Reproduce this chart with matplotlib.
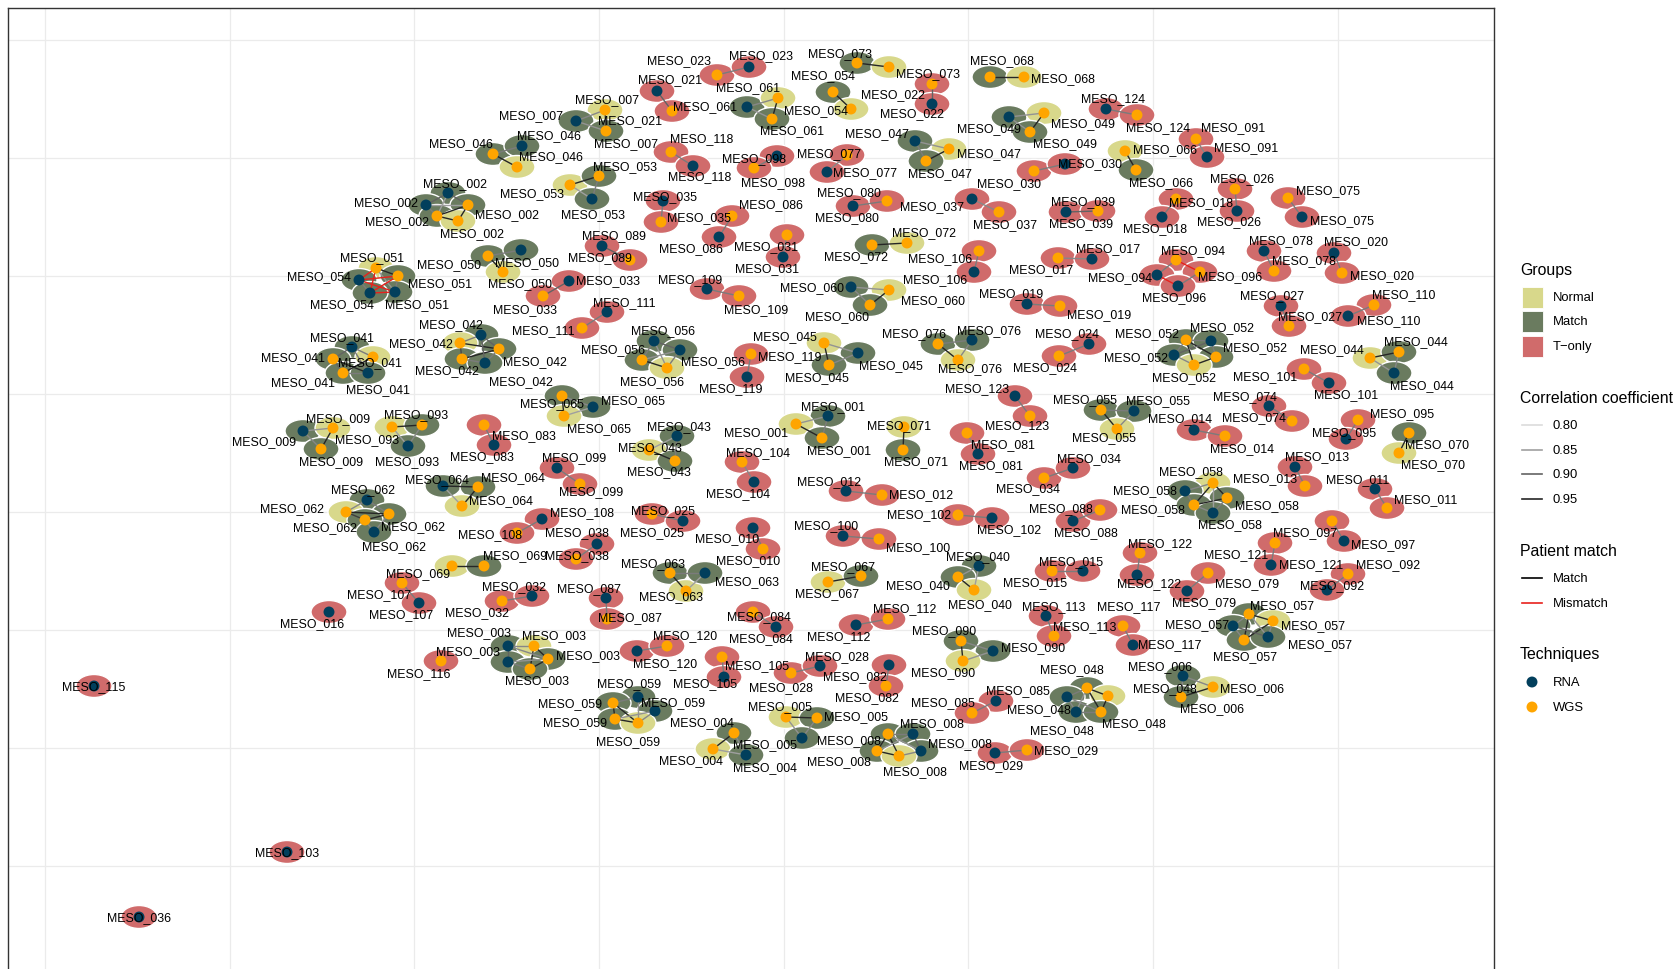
import matplotlib
matplotlib.use("Agg")
import matplotlib.pyplot as plt
from matplotlib.patches import Ellipse, Rectangle
from matplotlib.colors import LinearSegmentedColormap, Normalize
import numpy as np

plt.rcParams['font.family'] = ['Liberation Sans', 'DejaVu Sans']

# sample, node id, technique, group, layout x, layout y, label x, label y
nodes = [
    ("MESO_021", "021a", "RNA", "T-only", 657, 92, 670, 80),
    ("MESO_021", "021b", "WGS", "T-only", 672, 112, 630, 121),
    ("MESO_007", "007a", "WGS", "Normal", 605, 111, 607, 100),
    ("MESO_007", "007b", "RNA", "Match", 576, 122, 531, 116),
    ("MESO_007", "007c", "WGS", "Match", 606, 132, 626, 144),
    ("MESO_046", "046a", "WGS", "Match", 493, 155, 461, 144),
    ("MESO_046", "046b", "RNA", "Match", 522, 147, 549, 136),
    ("MESO_046", "046c", "WGS", "Normal", 517, 168, 551, 157),
    ("MESO_053", "053a", "WGS", "Normal", 570, 186, 532, 194),
    ("MESO_053", "053b", "WGS", "Match", 599, 177, 625, 167),
    ("MESO_053", "053c", "RNA", "Match", 592, 200, 593, 215),
    ("MESO_002", "002a", "RNA", "Match", 448, 194, 455, 184),
    ("MESO_002", "002b", "RNA", "Match", 426, 206, 386, 203),
    ("MESO_002", "002c", "WGS", "Match", 468, 206, 507, 215),
    ("MESO_002", "002d", "WGS", "Match", 437, 217, 397, 222),
    ("MESO_002", "002e", "WGS", "Normal", 458, 222, 472, 234),
    ("MESO_035", "035a", "RNA", "T-only", 663, 202, 665, 197),
    ("MESO_035", "035b", "WGS", "T-only", 661, 223, 699, 218),
    ("MESO_089", "089a", "RNA", "T-only", 602, 247, 614, 236),
    ("MESO_089", "089b", "WGS", "T-only", 630, 261, 600, 258),
    ("MESO_050", "050a", "WGS", "Match", 488, 257, 449, 265),
    ("MESO_050", "050b", "RNA", "Match", 521, 251, 527, 263),
    ("MESO_050", "050c", "WGS", "Normal", 503, 273, 520, 284),
    ("MESO_033", "033a", "RNA", "T-only", 569, 282, 608, 281),
    ("MESO_033", "033b", "WGS", "T-only", 543, 297, 525, 310),
    ("MESO_051", "051a", "WGS", "Normal", 376, 269, 372, 258),
    ("MESO_051", "051b", "WGS", "Match", 398, 277, 440, 284),
    ("MESO_051", "051c", "RNA", "Match", 395, 293, 417, 305),
    ("MESO_054", "054a", "RNA", "Match", 359, 281, 319, 277),
    ("MESO_054", "054b", "RNA", "Match", 370, 294, 342, 305),
    ("MESO_023", "023a", "WGS", "T-only", 717, 76, 679, 61),
    ("MESO_023", "023b", "RNA", "T-only", 749, 68, 761, 56),
    ("MESO_061", "061a", "RNA", "Match", 747, 108, 705, 107),
    ("MESO_061", "061b", "WGS", "Normal", 778, 99, 748, 88),
    ("MESO_061", "061c", "WGS", "Match", 772, 120, 792, 131),
    ("MESO_073", "073a", "WGS", "Match", 857, 64, 840, 54),
    ("MESO_073", "073b", "WGS", "Normal", 889, 68, 928, 74),
    ("MESO_054", "054c", "WGS", "Match", 833, 93, 823, 76),
    ("MESO_054", "054d", "WGS", "Normal", 851, 110, 816, 111),
    ("MESO_022", "022a", "WGS", "T-only", 932, 85, 893, 95),
    ("MESO_022", "022b", "RNA", "T-only", 932, 105, 912, 114),
    ("MESO_068", "068a", "WGS", "Match", 990, 78, 1002, 61),
    ("MESO_068", "068b", "WGS", "Normal", 1024, 78, 1063, 79),
    ("MESO_049", "049a", "RNA", "Match", 1009, 118, 989, 129),
    ("MESO_049", "049b", "WGS", "Normal", 1044, 114, 1083, 124),
    ("MESO_049", "049c", "WGS", "Match", 1030, 133, 1065, 144),
    ("MESO_124", "124a", "RNA", "T-only", 1106, 110, 1113, 99),
    ("MESO_124", "124b", "WGS", "T-only", 1137, 116, 1158, 128),
    ("MESO_047", "047a", "RNA", "Match", 915, 142, 877, 134),
    ("MESO_047", "047b", "WGS", "Normal", 949, 150, 989, 154),
    ("MESO_047", "047c", "WGS", "Match", 926, 162, 940, 174),
    ("MESO_098", "098a", "RNA", "T-only", 777, 157, 754, 159),
    ("MESO_098", "098b", "WGS", "T-only", 754, 169, 773, 183),
    ("MESO_077", "077a", "WGS", "T-only", 847, 156, 829, 154),
    ("MESO_077", "077b", "RNA", "T-only", 827, 173, 865, 173),
    ("MESO_118", "118a", "WGS", "T-only", 671, 153, 702, 139),
    ("MESO_118", "118b", "RNA", "T-only", 693, 167, 700, 177),
    ("MESO_030", "030a", "WGS", "T-only", 1034, 172, 1009, 184),
    ("MESO_030", "030b", "RNA", "T-only", 1065, 165, 1090, 164),
    ("MESO_066", "066a", "WGS", "Normal", 1125, 152, 1165, 150),
    ("MESO_066", "066b", "WGS", "Match", 1136, 171, 1161, 183),
    ("MESO_080", "080a", "RNA", "T-only", 853, 207, 849, 193),
    ("MESO_080", "080b", "WGS", "T-only", 887, 202, 847, 218),
    ("MESO_037", "037a", "RNA", "T-only", 972, 200, 932, 207),
    ("MESO_037", "037b", "WGS", "T-only", 999, 213, 1005, 225),
    ("MESO_039", "039a", "RNA", "T-only", 1066, 213, 1083, 202),
    ("MESO_039", "039b", "WGS", "T-only", 1098, 212, 1081, 224),
    ("MESO_086", "086a", "WGS", "T-only", 732, 217, 771, 205),
    ("MESO_086", "086b", "RNA", "T-only", 719, 238, 691, 249),
    ("MESO_031", "031a", "WGS", "T-only", 787, 236, 766, 247),
    ("MESO_031", "031b", "RNA", "T-only", 783, 258, 767, 269),
    ("MESO_072", "072a", "WGS", "Match", 872, 246, 856, 257),
    ("MESO_072", "072b", "WGS", "Normal", 907, 244, 924, 233),
    ("MESO_106", "106a", "WGS", "T-only", 979, 252, 940, 259),
    ("MESO_106", "106b", "RNA", "T-only", 974, 273, 935, 280),
    ("MESO_017", "017a", "WGS", "T-only", 1058, 259, 1041, 270),
    ("MESO_017", "017b", "RNA", "T-only", 1092, 260, 1108, 249),
    ("MESO_109", "109a", "RNA", "T-only", 707, 290, 690, 280),
    ("MESO_109", "109b", "WGS", "T-only", 739, 297, 756, 310),
    ("MESO_060", "060a", "RNA", "Match", 851, 288, 812, 288),
    ("MESO_060", "060b", "WGS", "Normal", 889, 291, 933, 301),
    ("MESO_060", "060c", "WGS", "Match", 870, 306, 837, 317),
    ("MESO_019", "019a", "RNA", "T-only", 1027, 305, 1011, 294),
    ("MESO_019", "019b", "WGS", "T-only", 1060, 307, 1099, 315),
    ("MESO_091", "091a", "WGS", "T-only", 1196, 140, 1233, 128),
    ("MESO_091", "091b", "RNA", "T-only", 1207, 158, 1246, 148),
    ("MESO_026", "026a", "WGS", "T-only", 1235, 190, 1242, 179),
    ("MESO_026", "026b", "RNA", "T-only", 1237, 212, 1229, 222),
    ("MESO_018", "018a", "WGS", "T-only", 1176, 200, 1201, 203),
    ("MESO_018", "018b", "RNA", "T-only", 1162, 218, 1155, 229),
    ("MESO_075", "075a", "WGS", "T-only", 1288, 199, 1328, 191),
    ("MESO_075", "075b", "RNA", "T-only", 1302, 218, 1342, 221),
    ("MESO_078", "078a", "RNA", "T-only", 1264, 252, 1281, 241),
    ("MESO_078", "078b", "WGS", "T-only", 1274, 272, 1304, 261),
    ("MESO_020", "020a", "RNA", "T-only", 1334, 254, 1356, 242),
    ("MESO_020", "020b", "WGS", "T-only", 1342, 274, 1382, 276),
    ("MESO_094", "094a", "WGS", "T-only", 1176, 261, 1193, 251),
    ("MESO_094", "094b", "RNA", "T-only", 1157, 276, 1120, 278),
    ("MESO_096", "096a", "WGS", "T-only", 1200, 273, 1230, 277),
    ("MESO_096", "096b", "RNA", "T-only", 1178, 287, 1174, 298),
    ("MESO_027", "027a", "RNA", "T-only", 1281, 307, 1272, 296),
    ("MESO_027", "027b", "WGS", "T-only", 1289, 327, 1310, 317),
    ("MESO_110", "110a", "WGS", "T-only", 1374, 306, 1404, 295),
    ("MESO_110", "110b", "RNA", "T-only", 1348, 317, 1389, 321),
    ("MESO_041", "041a", "RNA", "Match", 352, 348, 342, 338),
    ("MESO_041", "041b", "WGS", "Normal", 373, 358, 370, 363),
    ("MESO_041", "041c", "WGS", "Match", 333, 360, 293, 358),
    ("MESO_041", "041d", "WGS", "Match", 343, 374, 303, 383),
    ("MESO_041", "041e", "RNA", "Match", 368, 374, 378, 390),
    ("MESO_042", "042a", "RNA", "Match", 481, 336, 451, 325),
    ("MESO_042", "042b", "WGS", "Normal", 460, 344, 421, 344),
    ("MESO_042", "042c", "WGS", "Match", 499, 350, 535, 362),
    ("MESO_042", "042d", "WGS", "Match", 462, 360, 447, 371),
    ("MESO_042", "042e", "RNA", "Match", 485, 364, 521, 382),
    ("MESO_111", "111a", "RNA", "T-only", 607, 313, 624, 303),
    ("MESO_111", "111b", "WGS", "T-only", 582, 329, 543, 331),
    ("MESO_056", "056a", "RNA", "Match", 654, 342, 663, 331),
    ("MESO_056", "056b", "RNA", "Match", 680, 351, 713, 362),
    ("MESO_056", "056c", "WGS", "Match", 642, 361, 613, 350),
    ("MESO_056", "056d", "WGS", "Normal", 667, 369, 652, 382),
    ("MESO_065", "065a", "WGS", "Match", 562, 397, 552, 404),
    ("MESO_065", "065b", "RNA", "Match", 593, 408, 633, 401),
    ("MESO_065", "065c", "WGS", "Normal", 564, 417, 599, 429),
    ("MESO_009", "009a", "RNA", "Match", 303, 432, 264, 442),
    ("MESO_009", "009b", "WGS", "Normal", 333, 429, 338, 419),
    ("MESO_009", "009c", "WGS", "Match", 321, 450, 331, 462),
    ("MESO_093", "093a", "WGS", "Normal", 392, 428, 367, 440),
    ("MESO_093", "093b", "WGS", "Match", 422, 426, 416, 415),
    ("MESO_093", "093c", "RNA", "Match", 408, 447, 407, 462),
    ("MESO_083", "083a", "WGS", "T-only", 484, 426, 524, 436),
    ("MESO_083", "083b", "RNA", "T-only", 494, 446, 482, 457),
    ("MESO_099", "099a", "RNA", "T-only", 557, 469, 574, 458),
    ("MESO_099", "099b", "WGS", "T-only", 580, 485, 591, 492),
    ("MESO_043", "043a", "RNA", "Match", 677, 437, 679, 427),
    ("MESO_043", "043b", "WGS", "Normal", 649, 451, 650, 448),
    ("MESO_043", "043c", "WGS", "Match", 675, 462, 659, 472),
    ("MESO_064", "064a", "RNA", "Match", 443, 487, 437, 480),
    ("MESO_064", "064b", "WGS", "Match", 478, 488, 513, 478),
    ("MESO_064", "064c", "WGS", "Normal", 462, 507, 501, 501),
    ("MESO_062", "062a", "RNA", "Match", 367, 501, 363, 490),
    ("MESO_062", "062b", "WGS", "Normal", 346, 513, 292, 509),
    ("MESO_062", "062c", "WGS", "Match", 389, 515, 413, 527),
    ("MESO_062", "062d", "WGS", "Match", 365, 521, 325, 528),
    ("MESO_062", "062e", "RNA", "Match", 374, 533, 394, 547),
    ("MESO_108", "108a", "RNA", "T-only", 542, 520, 582, 513),
    ("MESO_108", "108b", "WGS", "T-only", 517, 534, 490, 535),
    ("MESO_025", "025a", "WGS", "T-only", 652, 515, 663, 511),
    ("MESO_025", "025b", "RNA", "T-only", 683, 522, 652, 533),
    ("MESO_038", "038a", "RNA", "T-only", 597, 545, 577, 533),
    ("MESO_038", "038b", "WGS", "T-only", 576, 560, 577, 556),
    ("MESO_119", "119a", "WGS", "T-only", 751, 355, 790, 357),
    ("MESO_119", "119b", "RNA", "T-only", 747, 378, 731, 389),
    ("MESO_045", "045a", "WGS", "Normal", 824, 344, 785, 337),
    ("MESO_045", "045b", "RNA", "Match", 858, 354, 891, 366),
    ("MESO_045", "045c", "WGS", "Match", 829, 366, 817, 378),
    ("MESO_076", "076a", "WGS", "Match", 938, 345, 914, 334),
    ("MESO_076", "076b", "RNA", "Match", 972, 341, 989, 331),
    ("MESO_076", "076c", "WGS", "Normal", 958, 361, 970, 369),
    ("MESO_024", "024a", "RNA", "T-only", 1089, 345, 1067, 334),
    ("MESO_024", "024b", "WGS", "T-only", 1059, 357, 1045, 368),
    ("MESO_123", "123a", "RNA", "T-only", 1015, 397, 977, 389),
    ("MESO_123", "123b", "WGS", "T-only", 1030, 417, 1017, 426),
    ("MESO_055", "055a", "WGS", "Match", 1101, 411, 1085, 400),
    ("MESO_055", "055b", "RNA", "Match", 1134, 412, 1158, 401),
    ("MESO_055", "055c", "WGS", "Normal", 1117, 430, 1104, 438),
    ("MESO_001", "001a", "RNA", "Match", 828, 417, 833, 407),
    ("MESO_001", "001b", "WGS", "Normal", 796, 425, 756, 433),
    ("MESO_001", "001c", "WGS", "Match", 822, 439, 839, 451),
    ("MESO_071", "071a", "WGS", "Normal", 904, 428, 899, 426),
    ("MESO_071", "071b", "WGS", "Match", 903, 451, 916, 462),
    ("MESO_081", "081a", "WGS", "T-only", 967, 434, 1003, 445),
    ("MESO_081", "081b", "RNA", "T-only", 978, 455, 991, 466),
    ("MESO_104", "104a", "WGS", "T-only", 742, 463, 758, 453),
    ("MESO_104", "104b", "RNA", "T-only", 754, 483, 738, 494),
    ("MESO_034", "034a", "WGS", "T-only", 1044, 479, 1028, 489),
    ("MESO_034", "034b", "RNA", "T-only", 1073, 469, 1089, 459),
    ("MESO_012", "012a", "RNA", "T-only", 846, 492, 829, 482),
    ("MESO_012", "012b", "WGS", "T-only", 882, 496, 921, 495),
    ("MESO_102", "102a", "WGS", "T-only", 958, 516, 919, 515),
    ("MESO_102", "102b", "RNA", "T-only", 992, 519, 1009, 530),
    ("MESO_088", "088a", "RNA", "T-only", 1073, 522, 1086, 533),
    ("MESO_088", "088b", "WGS", "T-only", 1100, 511, 1061, 509),
    ("MESO_100", "100a", "RNA", "T-only", 843, 537, 826, 526),
    ("MESO_100", "100b", "WGS", "T-only", 879, 540, 918, 548),
    ("MESO_010", "010a", "RNA", "T-only", 753, 529, 727, 539),
    ("MESO_010", "010b", "WGS", "T-only", 763, 550, 748, 561),
    ("MESO_052", "052a", "WGS", "Match", 1186, 341, 1147, 334),
    ("MESO_052", "052b", "RNA", "Match", 1211, 342, 1222, 328),
    ("MESO_052", "052c", "RNA", "Match", 1174, 356, 1136, 358),
    ("MESO_052", "052d", "WGS", "Match", 1216, 358, 1255, 348),
    ("MESO_052", "052e", "WGS", "Normal", 1194, 366, 1184, 378),
    ("MESO_044", "044a", "WGS", "Normal", 1370, 359, 1332, 350),
    ("MESO_044", "044b", "WGS", "Match", 1399, 353, 1416, 342),
    ("MESO_044", "044c", "RNA", "Match", 1394, 374, 1422, 386),
    ("MESO_101", "101a", "WGS", "T-only", 1304, 370, 1265, 377),
    ("MESO_101", "101b", "RNA", "T-only", 1329, 384, 1346, 395),
    ("MESO_074", "074a", "RNA", "T-only", 1269, 407, 1245, 397),
    ("MESO_074", "074b", "WGS", "T-only", 1292, 422, 1254, 418),
    ("MESO_014", "014a", "RNA", "T-only", 1194, 431, 1180, 419),
    ("MESO_014", "014b", "WGS", "T-only", 1225, 437, 1242, 449),
    ("MESO_095", "095a", "WGS", "T-only", 1358, 421, 1402, 414),
    ("MESO_095", "095b", "RNA", "T-only", 1346, 440, 1344, 433),
    ("MESO_070", "070a", "WGS", "Match", 1409, 434, 1437, 445),
    ("MESO_070", "070b", "WGS", "Normal", 1399, 454, 1433, 465),
    ("MESO_013", "013a", "RNA", "T-only", 1295, 468, 1317, 457),
    ("MESO_013", "013b", "WGS", "T-only", 1305, 487, 1265, 479),
    ("MESO_011", "011a", "RNA", "T-only", 1375, 490, 1358, 480),
    ("MESO_011", "011b", "WGS", "T-only", 1387, 509, 1426, 500),
    ("MESO_058", "058a", "WGS", "Normal", 1213, 484, 1191, 472),
    ("MESO_058", "058b", "RNA", "Match", 1185, 492, 1145, 491),
    ("MESO_058", "058c", "WGS", "Match", 1227, 499, 1267, 506),
    ("MESO_058", "058d", "WGS", "Match", 1194, 506, 1153, 510),
    ("MESO_058", "058e", "RNA", "Match", 1213, 514, 1230, 525),
    ("MESO_097", "097a", "WGS", "T-only", 1332, 522, 1305, 533),
    ("MESO_097", "097b", "RNA", "T-only", 1344, 542, 1383, 545),
    ("MESO_121", "121a", "WGS", "T-only", 1275, 544, 1236, 555),
    ("MESO_121", "121b", "RNA", "T-only", 1271, 566, 1311, 565),
    ("MESO_122", "122a", "WGS", "T-only", 1140, 554, 1160, 544),
    ("MESO_122", "122b", "RNA", "T-only", 1137, 576, 1149, 584),
    ("MESO_092", "092a", "WGS", "T-only", 1348, 575, 1388, 565),
    ("MESO_092", "092b", "RNA", "T-only", 1327, 591, 1332, 586),
    ("MESO_079", "079a", "WGS", "T-only", 1208, 574, 1247, 584),
    ("MESO_079", "079b", "RNA", "T-only", 1187, 592, 1204, 603),
    ("MESO_069", "069a", "WGS", "Normal", 452, 567, 418, 574),
    ("MESO_069", "069b", "WGS", "Match", 484, 567, 515, 556),
    ("MESO_107", "107a", "WGS", "T-only", 402, 584, 379, 595),
    ("MESO_107", "107b", "RNA", "T-only", 419, 604, 401, 615),
    ("MESO_016", "016a", "RNA", "T-only", 329, 613, 312, 624),
    ("MESO_032", "032a", "WGS", "T-only", 502, 602, 477, 613),
    ("MESO_032", "032b", "RNA", "T-only", 532, 597, 514, 587),
    ("MESO_087", "087a", "RNA", "T-only", 606, 599, 589, 589),
    ("MESO_087", "087b", "WGS", "T-only", 607, 620, 630, 618),
    ("MESO_063", "063a", "WGS", "Match", 670, 574, 653, 564),
    ("MESO_063", "063b", "WGS", "Normal", 686, 592, 671, 597),
    ("MESO_063", "063c", "RNA", "Match", 705, 574, 747, 582),
    ("MESO_003", "003a", "RNA", "Match", 508, 647, 479, 633),
    ("MESO_003", "003b", "WGS", "Normal", 534, 647, 554, 636),
    ("MESO_003", "003c", "WGS", "Match", 548, 660, 588, 656),
    ("MESO_003", "003d", "RNA", "Match", 508, 663, 468, 652),
    ("MESO_003", "003e", "WGS", "Match", 530, 670, 537, 681),
    ("MESO_116", "116a", "WGS", "T-only", 441, 662, 419, 674),
    ("MESO_120", "120a", "RNA", "T-only", 637, 652, 665, 664),
    ("MESO_120", "120b", "WGS", "T-only", 667, 647, 685, 636),
    ("MESO_059", "059a", "RNA", "Match", 638, 698, 629, 684),
    ("MESO_059", "059b", "WGS", "Match", 613, 704, 570, 704),
    ("MESO_059", "059c", "RNA", "Match", 655, 712, 673, 703),
    ("MESO_059", "059d", "WGS", "Match", 615, 720, 575, 723),
    ("MESO_059", "059e", "WGS", "Normal", 638, 724, 628, 742),
    ("MESO_067", "067a", "WGS", "Normal", 828, 583, 827, 594),
    ("MESO_067", "067b", "WGS", "Match", 861, 577, 843, 567),
    ("MESO_040", "040a", "RNA", "Match", 979, 567, 978, 557),
    ("MESO_040", "040b", "WGS", "Match", 958, 578, 918, 586),
    ("MESO_040", "040c", "WGS", "Normal", 974, 591, 980, 605),
    ("MESO_015", "015a", "WGS", "T-only", 1052, 572, 1035, 583),
    ("MESO_015", "015b", "RNA", "T-only", 1083, 572, 1071, 562),
    ("MESO_084", "084a", "WGS", "T-only", 753, 613, 759, 617),
    ("MESO_084", "084b", "RNA", "T-only", 776, 628, 761, 639),
    ("MESO_112", "112a", "RNA", "T-only", 856, 626, 839, 637),
    ("MESO_112", "112b", "WGS", "T-only", 888, 620, 905, 609),
    ("MESO_090", "090a", "WGS", "Match", 961, 642, 944, 631),
    ("MESO_090", "090b", "RNA", "Match", 993, 652, 1033, 648),
    ("MESO_090", "090c", "WGS", "Normal", 963, 662, 943, 673),
    ("MESO_113", "113a", "RNA", "T-only", 1046, 617, 1054, 607),
    ("MESO_113", "113b", "WGS", "T-only", 1054, 637, 1085, 627),
    ("MESO_117", "117a", "WGS", "T-only", 1123, 627, 1129, 607),
    ("MESO_117", "117b", "RNA", "T-only", 1133, 646, 1170, 645),
    ("MESO_105", "105a", "WGS", "T-only", 722, 658, 757, 666),
    ("MESO_105", "105b", "RNA", "T-only", 724, 678, 705, 684),
    ("MESO_028", "028a", "WGS", "T-only", 791, 674, 781, 688),
    ("MESO_028", "028b", "RNA", "T-only", 820, 667, 837, 657),
    ("MESO_082", "082a", "RNA", "T-only", 889, 666, 855, 677),
    ("MESO_082", "082b", "WGS", "T-only", 886, 687, 867, 698),
    ("MESO_085", "085a", "RNA", "T-only", 996, 702, 1018, 691),
    ("MESO_085", "085b", "WGS", "T-only", 972, 714, 943, 703),
    ("MESO_048", "048a", "WGS", "Match", 1087, 689, 1072, 670),
    ("MESO_048", "048b", "WGS", "Normal", 1108, 697, 1165, 689),
    ("MESO_048", "048c", "RNA", "Match", 1067, 698, 1039, 710),
    ("MESO_048", "048d", "RNA", "Match", 1076, 713, 1062, 731),
    ("MESO_048", "048e", "WGS", "Match", 1101, 713, 1134, 724),
    ("MESO_005", "005a", "WGS", "Normal", 786, 718, 780, 707),
    ("MESO_005", "005b", "WGS", "Match", 817, 719, 856, 717),
    ("MESO_005", "005c", "RNA", "Match", 802, 739, 765, 745),
    ("MESO_004", "004a", "WGS", "Match", 734, 734, 702, 723),
    ("MESO_004", "004b", "WGS", "Normal", 713, 750, 691, 761),
    ("MESO_004", "004c", "RNA", "Match", 746, 756, 765, 768),
    ("MESO_008", "008a", "WGS", "Match", 888, 735, 849, 741),
    ("MESO_008", "008b", "RNA", "Match", 913, 735, 932, 724),
    ("MESO_008", "008c", "WGS", "Match", 877, 752, 839, 762),
    ("MESO_008", "008d", "RNA", "Match", 921, 752, 960, 744),
    ("MESO_008", "008e", "WGS", "Normal", 899, 757, 915, 772),
    ("MESO_029", "029a", "RNA", "T-only", 995, 754, 991, 766),
    ("MESO_029", "029b", "WGS", "T-only", 1027, 751, 1066, 751),
    ("MESO_057", "057a", "WGS", "Match", 1249, 615, 1282, 606),
    ("MESO_057", "057b", "RNA", "Match", 1233, 627, 1197, 625),
    ("MESO_057", "057c", "WGS", "Normal", 1273, 622, 1313, 626),
    ("MESO_057", "057d", "WGS", "Match", 1244, 641, 1245, 657),
    ("MESO_057", "057e", "RNA", "Match", 1268, 638, 1320, 645),
    ("MESO_006", "006a", "RNA", "Match", 1183, 677, 1160, 667),
    ("MESO_006", "006b", "WGS", "Normal", 1213, 688, 1252, 689),
    ("MESO_006", "006c", "WGS", "Match", 1181, 698, 1212, 709),
    ("MESO_115", "115a", "RNA", "T-only", 94, 687, 94, 687),
    ("MESO_103", "103a", "RNA", "T-only", 287, 853, 287, 853),
    ("MESO_036", "036a", "RNA", "T-only", 139, 918, 139, 918),
]

# node id pairs with their correlation coefficient
edges = [
    ("021a", "021b", 0.90),
    ("007a", "007b", 0.87), ("007b", "007c", 0.86), ("007a", "007c", 0.93),
    ("046a", "046b", 0.88), ("046a", "046c", 0.97),
    ("053a", "053b", 0.96), ("053b", "053c", 0.88), ("053a", "053c", 0.85),
    ("002a", "002b", 0.90), ("002a", "002c", 0.90), ("002b", "002d", 0.88), ("002c", "002d", 0.97),
    ("002d", "002e", 0.95), ("002c", "002e", 0.95), ("002b", "002c", 0.85), ("002a", "002d", 0.85),
    ("035a", "035b", 0.88), ("089a", "089b", 0.90),
    ("050a", "050b", 0.88), ("050a", "050c", 0.97),
    ("033a", "033b", 0.90),
    ("051a", "051b", 0.96), ("051b", "051c", 0.88), ("051a", "051c", 0.86), ("054a", "054b", 0.88),
    ("051a", "054a", 0.90), ("051a", "054b", 0.88), ("051b", "054a", 0.88),
    ("051b", "054b", 0.90), ("051c", "054a", 0.88), ("051c", "054b", 0.90),
    ("023a", "023b", 0.88),
    ("061a", "061b", 0.87), ("061b", "061c", 0.95), ("061a", "061c", 0.86),
    ("073a", "073b", 0.96), ("054c", "054d", 0.96), ("022a", "022b", 0.90), ("068a", "068b", 0.97),
    ("049a", "049b", 0.86), ("049b", "049c", 0.96), ("049a", "049c", 0.86),
    ("124a", "124b", 0.88),
    ("047a", "047b", 0.86), ("047b", "047c", 0.96), ("047a", "047c", 0.88),
    ("098a", "098b", 0.88), ("077a", "077b", 0.87), ("118a", "118b", 0.88), ("030a", "030b", 0.88),
    ("066a", "066b", 0.96),
    ("080a", "080b", 0.88), ("037a", "037b", 0.87), ("039a", "039b", 0.90), ("086a", "086b", 0.88),
    ("031a", "031b", 0.87), ("072a", "072b", 0.97),
    ("106a", "106b", 0.88), ("017a", "017b", 0.87), ("109a", "109b", 0.88),
    ("060a", "060b", 0.86), ("060b", "060c", 0.95), ("060a", "060c", 0.87),
    ("019a", "019b", 0.88), ("091a", "091b", 0.87), ("026a", "026b", 0.88), ("018a", "018b", 0.88),
    ("075a", "075b", 0.88), ("078a", "078b", 0.88), ("020a", "020b", 0.88),
    ("094a", "094b", 0.88), ("096a", "096b", 0.88), ("094a", "096a", 0.88), ("094b", "096b", 0.88),
    ("027a", "027b", 0.88), ("110a", "110b", 0.88),
    ("041a", "041c", 0.90), ("041a", "041e", 0.88), ("041c", "041e", 0.95), ("041d", "041b", 0.96),
    ("041a", "041b", 0.88), ("041d", "041e", 0.88), ("041c", "041d", 0.90),
    ("042b", "042c", 0.97), ("042d", "042c", 0.97), ("042b", "042d", 0.92), ("042a", "042b", 0.88),
    ("042a", "042c", 0.90), ("042e", "042c", 0.88), ("042e", "042d", 0.88), ("042a", "042e", 0.90),
    ("111a", "111b", 0.88),
    ("056a", "056b", 0.90), ("056a", "056c", 0.88), ("056c", "056d", 0.97), ("056b", "056d", 0.88),
    ("056a", "056d", 0.86), ("056b", "056c", 0.86),
    ("065a", "065c", 0.97), ("065a", "065b", 0.87), ("065b", "065c", 0.85),
    ("009a", "009b", 0.86), ("009b", "009c", 0.97), ("009a", "009c", 0.87),
    ("093a", "093b", 0.97), ("093b", "093c", 0.87), ("093a", "093c", 0.85),
    ("083a", "083b", 0.88), ("099a", "099b", 0.88),
    ("043a", "043c", 0.88), ("043b", "043c", 0.96), ("043a", "043b", 0.85),
    ("064a", "064b", 0.95), ("064b", "064c", 0.95), ("064a", "064c", 0.85),
    ("062b", "062c", 0.97), ("062d", "062c", 0.97), ("062b", "062d", 0.93), ("062a", "062b", 0.87),
    ("062a", "062c", 0.88), ("062e", "062c", 0.87), ("062e", "062d", 0.87),
    ("108a", "108b", 0.88), ("025a", "025b", 0.88), ("038a", "038b", 0.88), ("119a", "119b", 0.88),
    ("045a", "045c", 0.96), ("045a", "045b", 0.86), ("045b", "045c", 0.87),
    ("076a", "076c", 0.96), ("076a", "076b", 0.88), ("076b", "076c", 0.87),
    ("024a", "024b", 0.88), ("123a", "123b", 0.88),
    ("055a", "055b", 0.88), ("055a", "055c", 0.97), ("055b", "055c", 0.87),
    ("001a", "001b", 0.86), ("001b", "001c", 0.97), ("001a", "001c", 0.88),
    ("071a", "071b", 0.97),
    ("081a", "081b", 0.87), ("104a", "104b", 0.87), ("034a", "034b", 0.88), ("012a", "012b", 0.88),
    ("102a", "102b", 0.88), ("088a", "088b", 0.88), ("100a", "100b", 0.88), ("010a", "010b", 0.88),
    ("052a", "052d", 0.97), ("052a", "052e", 0.95), ("052e", "052d", 0.95), ("052a", "052b", 0.88),
    ("052b", "052d", 0.88), ("052c", "052a", 0.88), ("052c", "052e", 0.87), ("052b", "052c", 0.90),
    ("044a", "044b", 0.97), ("044b", "044c", 0.87), ("044a", "044c", 0.86),
    ("101a", "101b", 0.88), ("074a", "074b", 0.88), ("014a", "014b", 0.88), ("095a", "095b", 0.88),
    ("070a", "070b", 0.97), ("013a", "013b", 0.88), ("011a", "011b", 0.88),
    ("058a", "058c", 0.96), ("058a", "058d", 0.96), ("058d", "058c", 0.97), ("058a", "058b", 0.87),
    ("058b", "058d", 0.88), ("058e", "058c", 0.88), ("058e", "058d", 0.87), ("058a", "058e", 0.85),
    ("097a", "097b", 0.88), ("121a", "121b", 0.88), ("122a", "122b", 0.88), ("092a", "092b", 0.88),
    ("079a", "079b", 0.88), ("069a", "069b", 0.97),
    ("107a", "107b", 0.88), ("032a", "032b", 0.88), ("087a", "087b", 0.88),
    ("063a", "063b", 0.96), ("063a", "063c", 0.88), ("063b", "063c", 0.85),
    ("003b", "003c", 0.95), ("003b", "003e", 0.95), ("003c", "003e", 0.96), ("003a", "003b", 0.87),
    ("003a", "003d", 0.90), ("003d", "003e", 0.88), ("003a", "003c", 0.87), ("003d", "003c", 0.86),
    ("120a", "120b", 0.88),
    ("059b", "059d", 0.96), ("059b", "059e", 0.96), ("059d", "059e", 0.97), ("059a", "059b", 0.88),
    ("059a", "059c", 0.90), ("059c", "059e", 0.87), ("059a", "059e", 0.86), ("059c", "059d", 0.86),
    ("067a", "067b", 0.97),
    ("040a", "040b", 0.86), ("040b", "040c", 0.97), ("040a", "040c", 0.85),
    ("015a", "015b", 0.88), ("084a", "084b", 0.88), ("112a", "112b", 0.88),
    ("090a", "090c", 0.97), ("090a", "090b", 0.87), ("090b", "090c", 0.86),
    ("113a", "113b", 0.88), ("117a", "117b", 0.88), ("105a", "105b", 0.88), ("028a", "028b", 0.88),
    ("082a", "082b", 0.88), ("085a", "085b", 0.88),
    ("048a", "048b", 0.96), ("048a", "048e", 0.96), ("048b", "048e", 0.95), ("048a", "048c", 0.88),
    ("048c", "048d", 0.87), ("048c", "048e", 0.87), ("048d", "048e", 0.88), ("048d", "048a", 0.86),
    ("005a", "005b", 0.97), ("005b", "005c", 0.87), ("005a", "005c", 0.86),
    ("004a", "004b", 0.97), ("004a", "004c", 0.87), ("004b", "004c", 0.85),
    ("008a", "008c", 0.97), ("008a", "008e", 0.96), ("008c", "008e", 0.95), ("008a", "008b", 0.88),
    ("008b", "008d", 0.90), ("008d", "008e", 0.87), ("008b", "008c", 0.86), ("008a", "008d", 0.86),
    ("029a", "029b", 0.88),
    ("057a", "057c", 0.96), ("057a", "057d", 0.96), ("057c", "057d", 0.96), ("057a", "057b", 0.87),
    ("057b", "057e", 0.90), ("057e", "057c", 0.87), ("057b", "057d", 0.87), ("057a", "057e", 0.86),
    ("006a", "006b", 0.87), ("006b", "006c", 0.96), ("006a", "006c", 0.87),
]

group_names = ["Normal", "Match", "T-only"]
group_colors = ["#D8D88B", "#6A7B5F", "#D06B6B"]
corr_levels = [0.80, 0.85, 0.90, 0.95]
match_names = ["Match", "Mismatch"]
match_colors = ["black", "#E8211C"]
tech_names = ["RNA", "WGS"]
tech_colors = ["#023F5C", "#FFA500"]

group_col = dict(zip(group_names, group_colors))
tech_col = dict(zip(tech_names, tech_colors))
corr_cmap = LinearSegmentedColormap.from_list("corr", ["#DCDCDC", "#262626"])
corr_norm = Normalize(vmin=0.80, vmax=0.95, clip=True)

pos = {n[1]: (n[4], n[5]) for n in nodes}
sample_of = {n[1]: n[0] for n in nodes}

W, H = 1681, 970
fig = plt.figure(figsize=(W / 100, H / 100), dpi=100)
fig.patch.set_facecolor("white")

# main panel runs off the bottom of the canvas
ax = fig.add_axes([8 / W, -30 / H, (1494 - 8) / W, (H + 30 - 9) / H])
ax.set_xlim(8, 1494)
ax.set_ylim(H + 30, 9)
ax.set_xticks(np.arange(45, 1494, 184.7))
ax.set_yticks(np.arange(41, H + 30, 118.0))
ax.grid(True, color="#EBEBEB", lw=0.9, zorder=0)
ax.tick_params(length=0, labelbottom=False, labelleft=False)
for sp in ax.spines.values():
    sp.set_color("#333333")
    sp.set_linewidth(1.0)
ax.set_axisbelow(True)

# group halo under each node
for n in nodes:
    ax.add_patch(Ellipse((n[4], n[5]), width=36, height=23, facecolor=group_col[n[3]],
                         edgecolor="white", lw=1.0, zorder=1))

# correlation edges, red when the two samples disagree
for a, b, r in edges:
    (x1, y1), (x2, y2) = pos[a], pos[b]
    if sample_of[a] != sample_of[b]:
        col = match_colors[1]
    else:
        col = corr_cmap(corr_norm(r))
    ax.plot([x1, x2], [y1, y2], color=col, lw=1.0, zorder=2, solid_capstyle="butt")

xs = np.array([n[4] for n in nodes])
ys = np.array([n[5] for n in nodes])
cols = [tech_col[n[2]] for n in nodes]
ax.scatter(xs, ys, s=62, c=cols, edgecolors="none", zorder=3)

for n in nodes:
    ax.text(n[6], n[7], n[0], fontsize=8.9, ha="center", va="center", color="black", zorder=4)

# legend column
lax = fig.add_axes([0, 0, 1, 1])
lax.set_xlim(0, W)
lax.set_ylim(H, 0)
lax.axis("off")
tfs, ifs = 11.4, 9.4
lx, kx = 1520, 1553

lax.text(lx, 271, "Groups", fontsize=tfs, va="center")
for i, (g, c) in enumerate(zip(group_names, group_colors)):
    y = 298 + 24.5 * i
    lax.add_patch(Rectangle((1522, y - 10.5), 21, 21, facecolor=c, edgecolor="white", lw=0.6))
    lax.text(kx, y, g.replace("-", "\u2212"), fontsize=ifs, va="center")

lax.text(lx, 399, "Correlation coefficient", fontsize=tfs, va="center")
for i, r in enumerate(corr_levels):
    y = 426 + 24.7 * i
    lax.plot([1522, 1542], [y, y], color=corr_cmap(corr_norm(r)), lw=1.2)
    lax.text(kx, y, f"{r:.2f}", fontsize=ifs, va="center")

lax.text(lx, 552, "Patient match", fontsize=tfs, va="center")
for i, (m, c) in enumerate(zip(match_names, match_colors)):
    y = 579 + 25 * i
    lax.plot([1522, 1542], [y, y], color=c, lw=1.2)
    lax.text(kx, y, m, fontsize=ifs, va="center")

lax.text(lx, 655, "Techniques", fontsize=tfs, va="center")
for i, (t, c) in enumerate(zip(tech_names, tech_colors)):
    y = 683 + 25 * i
    lax.scatter([1532], [y], s=62, color=c, edgecolors="none")
    lax.text(kx, y, t, fontsize=ifs, va="center")

fig.savefig("out.png", dpi=100)
